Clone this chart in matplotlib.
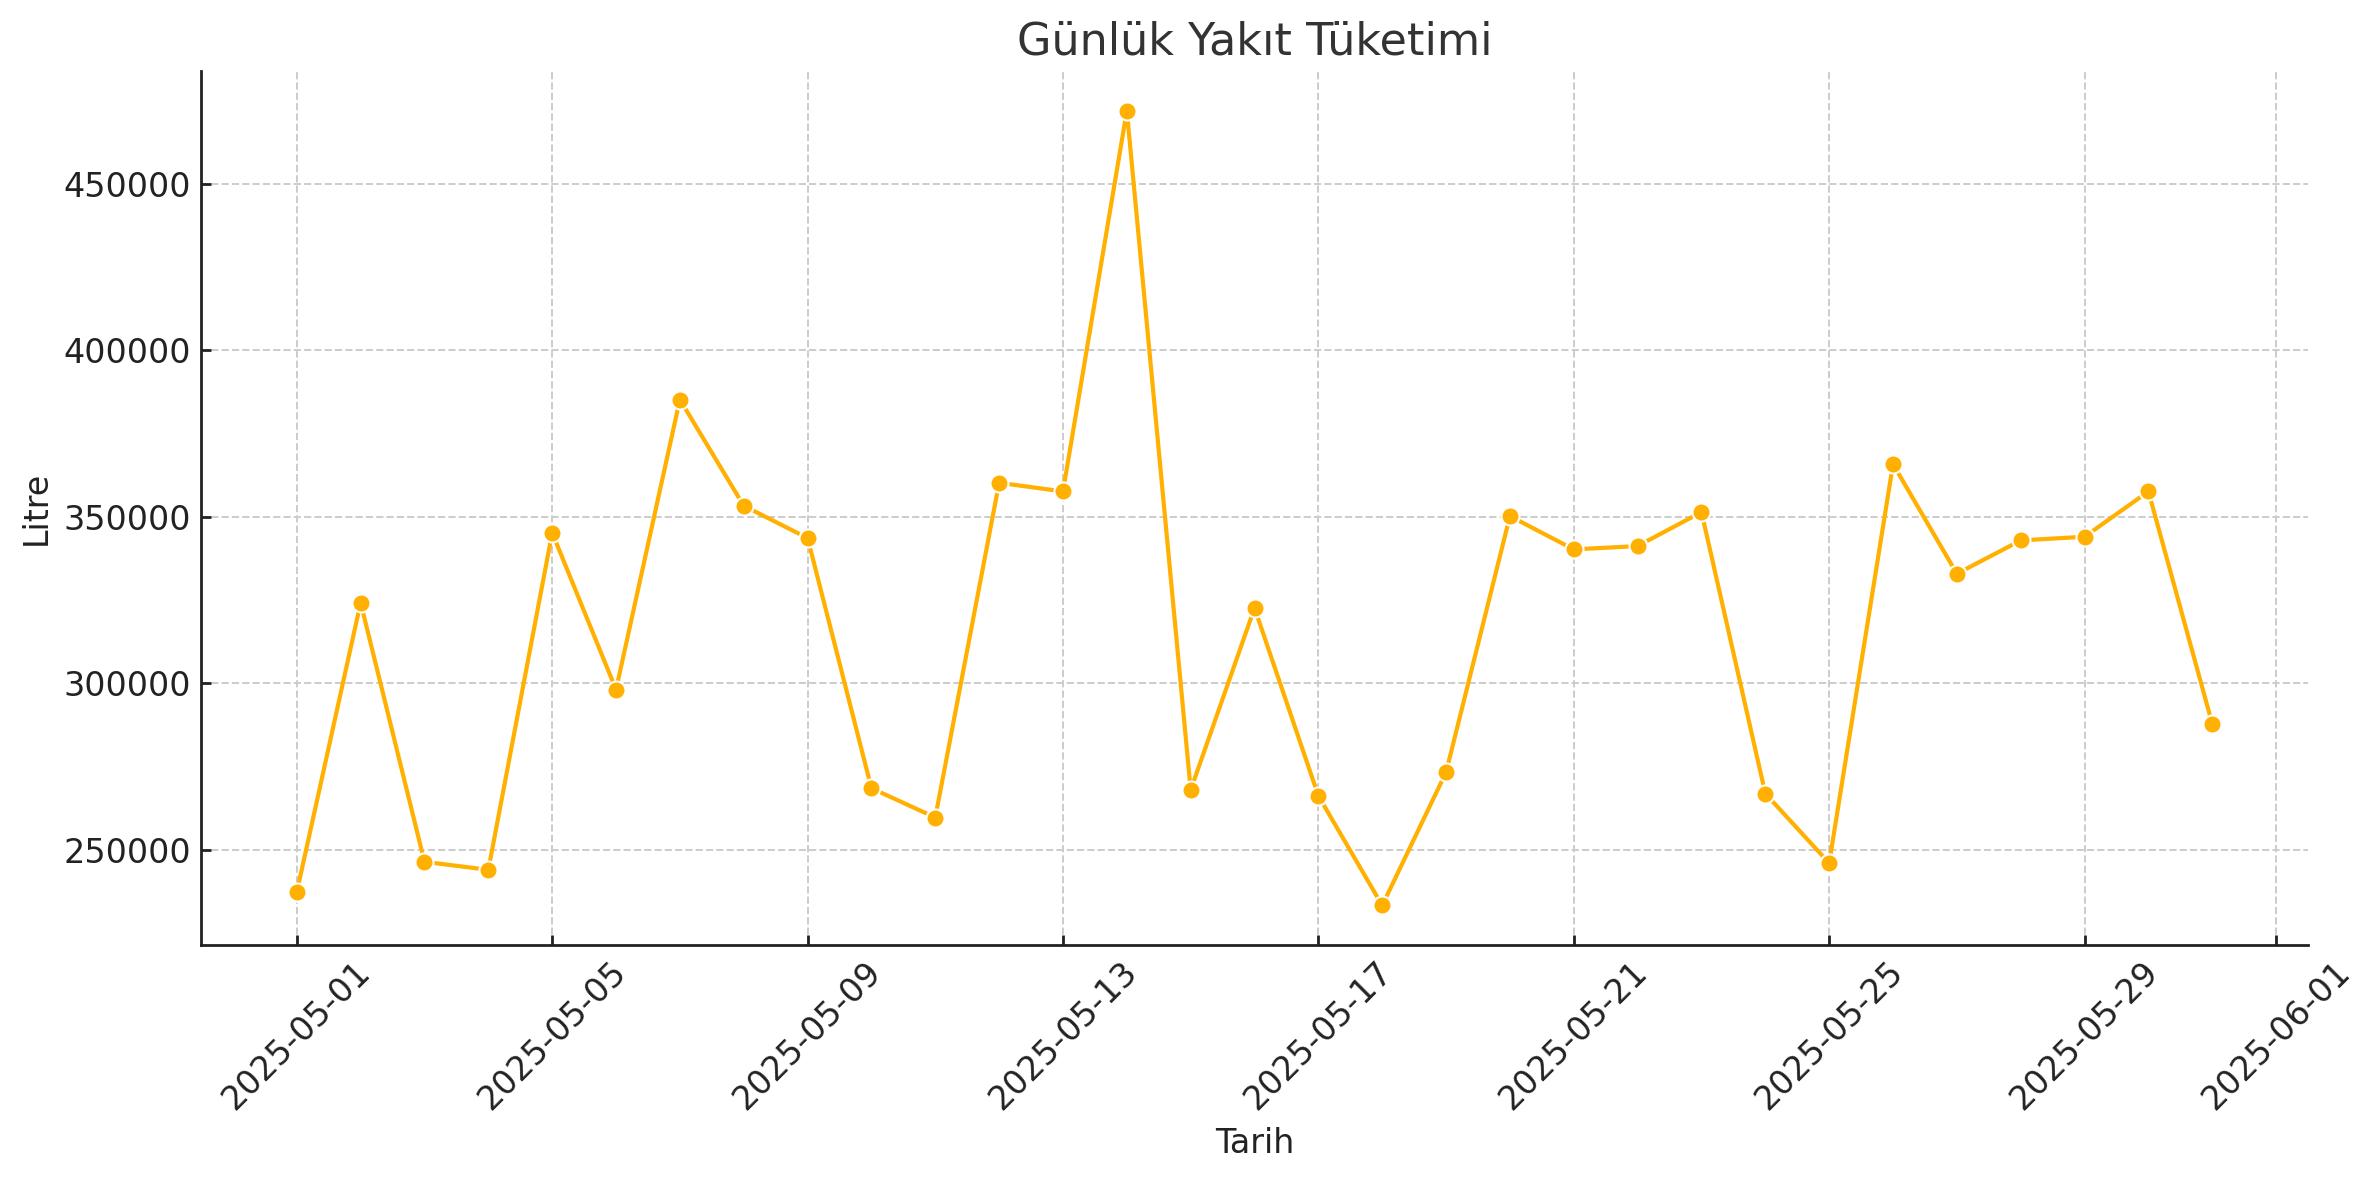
import matplotlib
matplotlib.use("Agg")
import matplotlib.pyplot as plt
import matplotlib.dates as mdates
import pandas as pd
import numpy as np

dates = pd.date_range("2025-05-01", "2025-05-31", freq="D")
litres = [237300, 324200, 246400, 244000, 345200, 298100, 385200, 353300,
          343600, 268500, 259700, 360200, 357600, 471900, 268000, 322600,
          266200, 233300, 273300, 350200, 340200, 341200, 351400, 266900,
          246000, 365800, 332900, 342900, 344000, 357600, 287800]

title = "Günlük Yakıt Tüketimi"
xlabel = "Tarih"
ylabel = "Litre"

plt.rcParams['font.family'] = ['DejaVu Sans']
fig = plt.figure(figsize=(11.88, 5.9), dpi=200)
ax = fig.add_axes([0.0846, 0.199, 0.9714 - 0.0846, 0.9398 - 0.199])

ax.plot(dates, litres, color="#FFB000", linewidth=1.5, marker="o",
        markersize=6.5, markeredgecolor="white", markeredgewidth=0.75, zorder=3)

ax.xaxis.set_major_formatter(mdates.DateFormatter("%Y-%m-%d"))
ax.grid(True, linestyle="--", color="#cccccc", linewidth=0.7)
ax.set_axisbelow(True)
for s in ["top", "right"]:
    ax.spines[s].set_visible(False)
for s in ["left", "bottom"]:
    ax.spines[s].set_color("#222222")
    ax.spines[s].set_linewidth(1.0)
ax.tick_params(direction="in", length=3.6, width=1.0, colors="#222222", labelsize=12)
plt.setp(ax.get_xticklabels(), rotation=45, ha="center")

ax.set_title(title, fontsize=16, color="#333333", pad=6)
ax.set_xlabel(xlabel, fontsize=12, color="#222222")
ax.set_ylabel(ylabel, fontsize=12, color="#222222")

fig.savefig("out.png", dpi=200)
